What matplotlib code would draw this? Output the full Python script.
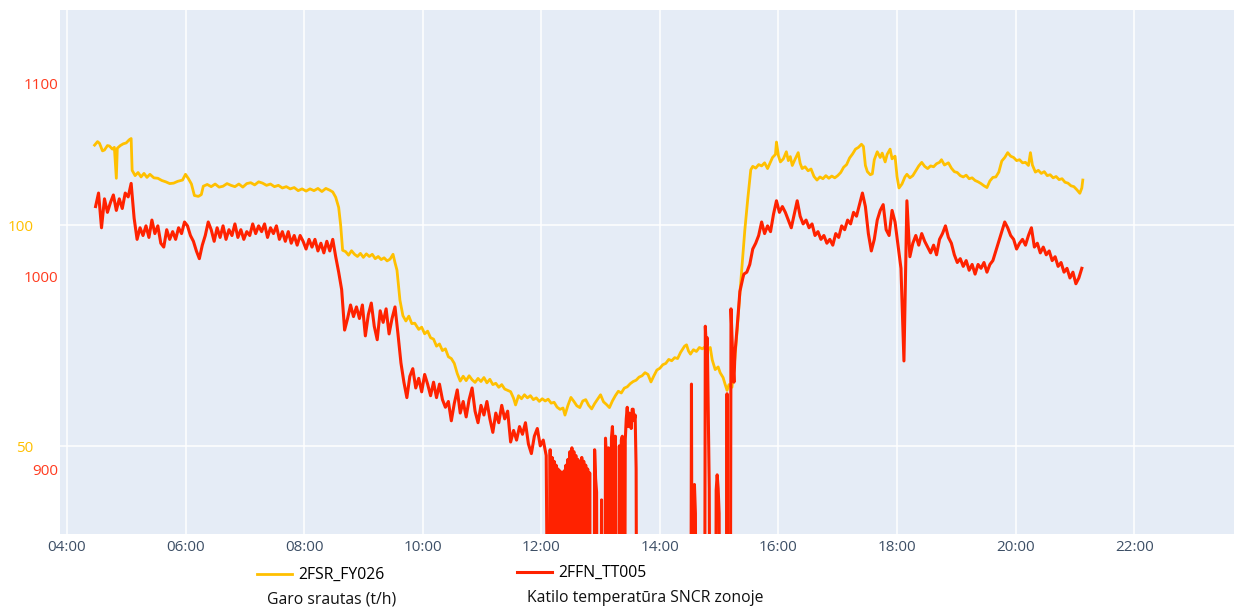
import pandas as pd
import matplotlib
matplotlib.use("Agg")
import matplotlib.pyplot as plt
import matplotlib.dates as mdates

# Garo srautas (t/h) - 2FSR_FY026
yellow_time = ["04:28", "04:31", "04:33", "04:36", "04:38", "04:41", "04:43", "04:46", "04:48", "04:50",
               "04:51", "04:54", "04:57", "05:00", "05:03", "05:05", "05:06", "05:09", "05:12", "05:15",
               "05:18", "05:21", "05:24", "05:28", "05:32", "05:36", "05:40", "05:44", "05:48", "05:52",
               "05:57", "06:00", "06:03", "06:06", "06:09", "06:13", "06:16", "06:18", "06:22", "06:26",
               "06:30", "06:34", "06:38", "06:42", "06:46", "06:50", "06:54", "06:58", "07:02", "07:06",
               "07:10", "07:14", "07:18", "07:22", "07:26", "07:30", "07:34", "07:38", "07:42", "07:46",
               "07:50", "07:54", "07:58", "08:02", "08:06", "08:10", "08:14", "08:18", "08:22", "08:26",
               "08:29", "08:32", "08:35", "08:37", "08:39", "08:42", "08:45", "08:48", "08:51", "08:54",
               "08:57", "09:00", "09:03", "09:06", "09:09", "09:12", "09:15", "09:18", "09:21", "09:24",
               "09:27", "09:30", "09:32", "09:34", "09:37", "09:40", "09:43", "09:46", "09:49", "09:52",
               "09:56", "09:59", "10:02", "10:05", "10:08", "10:11", "10:14", "10:17", "10:20", "10:23",
               "10:26", "10:29", "10:32", "10:35", "10:38", "10:41", "10:44", "10:47", "10:50", "10:53",
               "10:56", "10:59", "11:02", "11:05", "11:08", "11:11", "11:14", "11:17", "11:20", "11:23",
               "11:26", "11:29", "11:32", "11:34", "11:37", "11:40", "11:43", "11:46", "11:49", "11:52",
               "11:55", "11:58", "12:01", "12:04", "12:07", "12:10", "12:13", "12:16", "12:19", "12:22",
               "12:24", "12:27", "12:30", "12:33", "12:36", "12:39", "12:42", "12:45", "12:48", "12:51",
               "12:54", "12:57", "13:00", "13:03", "13:06", "13:09", "13:12", "13:15", "13:18", "13:21",
               "13:24", "13:27", "13:30", "13:33", "13:36", "13:39", "13:42", "13:45", "13:48", "13:51",
               "13:54", "13:57", "14:00", "14:03", "14:06", "14:09", "14:12", "14:15", "14:18", "14:21",
               "14:25", "14:27", "14:29", "14:31", "14:34", "14:37", "14:40", "14:43", "14:46", "14:49",
               "14:51", "14:53", "14:56", "14:59", "15:01", "15:04", "15:06", "15:08", "15:10", "15:13",
               "15:16", "15:19", "15:21", "15:24", "15:26", "15:29", "15:32", "15:34", "15:37", "15:40",
               "15:43", "15:46", "15:49", "15:52", "15:54", "15:57", "15:58", "16:00", "16:02", "16:05",
               "16:08", "16:10", "16:12", "16:14", "16:17", "16:20", "16:22", "16:24", "16:27", "16:30",
               "16:33", "16:36", "16:39", "16:42", "16:45", "16:48", "16:51", "16:54", "16:57", "17:00",
               "17:03", "17:06", "17:09", "17:12", "17:15", "17:18", "17:21", "17:24", "17:26", "17:28",
               "17:30", "17:33", "17:35", "17:37", "17:40", "17:43", "17:45", "17:48", "17:50", "17:53",
               "17:55", "17:58", "18:00", "18:02", "18:05", "18:08", "18:10", "18:13", "18:16", "18:19",
               "18:22", "18:25", "18:28", "18:31", "18:34", "18:37", "18:40", "18:43", "18:45", "18:48",
               "18:52", "18:55", "18:58", "19:01", "19:04", "19:07", "19:10", "19:13", "19:16", "19:19",
               "19:22", "19:25", "19:28", "19:31", "19:34", "19:37", "19:40", "19:43", "19:46", "19:49",
               "19:52", "19:55", "19:58", "20:01", "20:04", "20:07", "20:10", "20:13", "20:15", "20:17",
               "20:20", "20:23", "20:26", "20:29", "20:32", "20:35", "20:38", "20:41", "20:44", "20:47",
               "20:50", "20:53", "20:56", "20:59", "21:02", "21:05", "21:07", "21:08"]
yellow_val = [118.1, 118.9, 118.5, 116.8, 117.0, 118.0, 117.9, 117.2, 117.6, 110.6,
              117.4, 118.0, 118.4, 118.6, 119.3, 119.6, 112.4, 111.2, 111.9, 110.9,
              111.7, 110.8, 111.5, 110.7, 110.6, 110.1, 109.8, 109.4, 109.5, 109.9,
              110.2, 111.5, 110.5, 109.3, 106.7, 106.5, 106.9, 108.8, 109.2, 108.7,
              109.3, 108.6, 108.8, 109.4, 109.0, 108.7, 109.3, 108.6, 109.4, 109.6,
              109.1, 109.8, 109.5, 109.0, 109.3, 108.7, 109.0, 108.4, 108.7, 108.2,
              108.5, 107.8, 108.2, 107.7, 108.2, 107.8, 108.3, 107.6, 108.3, 107.9,
              107.5, 106.3, 104.0, 100.0, 94.3, 94.0, 93.2, 94.2, 93.4, 92.9,
              93.6, 92.7, 93.5, 92.9, 93.4, 92.4, 92.9, 92.2, 92.6, 91.9,
              92.3, 93.4, 91.5, 89.8, 83.0, 79.5, 78.3, 79.4, 77.7, 77.8,
              76.4, 76.9, 75.4, 76.0, 74.5, 74.2, 72.6, 73.1, 71.6, 72.0,
              70.2, 69.8, 68.7, 66.4, 64.7, 65.8, 64.8, 65.9, 65.0, 64.4,
              65.3, 64.6, 65.5, 64.3, 65.1, 63.9, 64.2, 63.3, 63.9, 62.9,
              62.6, 62.3, 60.8, 59.3, 61.4, 60.7, 61.6, 60.9, 61.4, 60.5,
              60.9, 60.1, 60.7, 60.2, 60.6, 59.7, 59.9, 58.8, 58.3, 58.6,
              57.0, 59.2, 61.0, 60.1, 59.1, 58.7, 60.2, 60.5, 59.2, 58.4,
              59.6, 60.6, 61.6, 60.0, 59.4, 58.7, 60.2, 61.4, 62.4, 62.0,
              63.1, 63.4, 64.1, 64.6, 64.9, 65.6, 65.9, 66.6, 66.2, 64.5,
              65.9, 67.2, 67.6, 68.4, 68.7, 69.6, 69.3, 70.0, 69.8, 71.2,
              72.6, 72.9, 71.5, 70.8, 71.8, 71.4, 72.3, 72.0, 72.5, 71.9,
              72.3, 69.5, 67.3, 67.9, 66.6, 65.5, 64.0, 62.6, 63.9, 63.3,
              70.0, 78.5, 84.6, 93.0, 98.9, 106.0, 112.5, 113.3, 112.9, 113.7,
              113.4, 114.1, 112.8, 114.3, 115.3, 116.0, 118.8, 115.7, 114.3, 115.0,
              116.6, 114.6, 115.5, 113.5, 115.0, 116.4, 114.0, 112.8, 113.2, 112.3,
              112.7, 111.0, 110.2, 110.9, 110.5, 111.2, 110.6, 111.1, 110.7, 111.2,
              111.9, 113.1, 113.7, 115.2, 116.1, 117.2, 117.6, 118.3, 117.8, 113.5,
              112.1, 111.4, 111.6, 114.8, 116.6, 115.3, 116.3, 114.3, 116.0, 117.2,
              115.0, 115.6, 111.0, 108.4, 109.3, 110.9, 111.5, 110.7, 111.2, 112.3,
              113.4, 114.2, 113.3, 112.8, 113.4, 113.2, 113.9, 114.2, 114.8, 113.6,
              114.1, 112.9, 112.1, 111.9, 111.2, 110.9, 111.3, 110.5, 110.7, 110.1,
              109.8, 109.4, 108.9, 108.5, 110.0, 110.8, 110.9, 112.0, 114.5, 115.3,
              116.4, 115.6, 115.3, 114.6, 114.8, 114.1, 114.2, 113.5, 116.4, 113.6,
              112.0, 112.4, 111.7, 112.1, 111.2, 111.4, 110.7, 111.0, 110.3, 110.5,
              109.7, 109.5, 108.9, 108.7, 108.0, 107.2, 108.4, 110.2]

# Katilo temperatura SNCR zonoje - 2FFN_TT005
# morning part, one reading every 3 minutes
red_morning_start = "04:29"
red_morning_val = [1036, 1043, 1025, 1040, 1033, 1038, 1042, 1034, 1040, 1035, 1043,
                   1041, 1048, 1030, 1019, 1025, 1021, 1026, 1020, 1029, 1022,
                   1026, 1017, 1015, 1024, 1019, 1023, 1019, 1025, 1022, 1028,
                   1026, 1021, 1018, 1013, 1009, 1016, 1021, 1028, 1024, 1018,
                   1025, 1020, 1026, 1019, 1024, 1021, 1027, 1020, 1024, 1019,
                   1023, 1021, 1027, 1022, 1026, 1023, 1027, 1020, 1025, 1022,
                   1026, 1019, 1023, 1018, 1023, 1017, 1021, 1016, 1021, 1018,
                   1014, 1019, 1015, 1019, 1013, 1017, 1012, 1018, 1013, 1019,
                   1010, 1002, 993, 972, 978, 985, 979, 984, 978, 985,
                   969, 980, 986, 974, 967, 982, 976, 983, 970, 978,
                   984, 970, 955, 945, 937, 948, 952, 942, 947, 940,
                   949, 944, 938, 945, 937, 944, 936, 932, 935, 925,
                   934, 941, 929, 935, 927, 936, 942, 930, 924, 933,
                   928, 935, 926, 919, 929, 924, 933, 926, 930, 914,
                   920, 915, 922, 918, 924, 913, 908, 917, 921, 912,
                   915, 907]

# midday part with sensor dropouts (values far below the axis)
red_mid_time = ["12:08", "12:09", "12:10", "12:11", "12:12", "12:13", "12:14", "12:15", "12:16", "12:17",
                "12:18", "12:19", "12:20", "12:21", "12:22", "12:23", "12:24", "12:25", "12:26", "12:27",
                "12:28", "12:29", "12:30", "12:31", "12:32", "12:33", "12:34", "12:35", "12:36", "12:37",
                "12:38", "12:39", "12:40", "12:41", "12:42", "12:43", "12:44", "12:45", "12:46", "12:47",
                "12:48", "12:49", "12:50", "12:53", "12:54", "12:55", "12:56", "12:57", "13:00", "13:01",
                "13:02", "13:04", "13:05", "13:06", "13:07", "13:08", "13:09", "13:10", "13:11", "13:12",
                "13:13", "13:14", "13:15", "13:16", "13:17", "13:18", "13:19", "13:20", "13:21", "13:22",
                "13:23", "13:24", "13:25", "13:26", "13:27", "13:28", "13:29", "13:30", "13:31", "13:32",
                "13:33", "13:34", "13:35", "13:36", "13:37",
                "14:31", "14:32", "14:33", "14:34", "14:35", "14:36", "14:37", "14:45", "14:46", "14:47",
                "14:48", "14:50", "14:51", "14:56", "14:57", "14:58", "14:59", "15:00", "15:01", "15:07",
                "15:08", "15:09", "15:11", "15:12", "15:14", "15:15", "15:16", "15:18", "15:21", "15:24"]
red_mid_val = [700, 910, 700, 906, 700, 904, 700, 902, 700, 900,
               700, 899, 700, 897, 700, 899, 700, 902, 700, 905,
               700, 909, 700, 911, 700, 909, 700, 907, 700, 905,
               700, 904, 700, 906, 700, 904, 700, 902, 700, 900,
               700, 898, 700, 700, 910, 895, 888, 700, 700, 884,
               700, 700, 916, 905, 700, 911, 905, 700, 916, 922,
               910, 700, 917, 700, 700, 700, 912, 700, 915, 917,
               700, 700, 915, 926, 932, 922, 929, 927, 921, 931,
               931, 925, 928, 900, 700,
               700, 944, 700, 700, 892, 877, 700, 700, 974, 963,
               968, 890, 700, 700, 889, 897, 890, 877, 700, 700,
               939, 700, 700, 983, 954, 945, 960, 972, 992, 999]

# afternoon part, one reading every 3 minutes
red_evening_start = "15:25"
red_evening_val = [1001, 1002, 1006, 1014, 1017, 1021, 1028, 1022, 1026, 1023, 1032, 1039, 1033,
                   1036, 1033, 1029, 1025, 1032, 1039, 1031, 1027, 1029, 1025,
                   1027, 1021, 1023, 1019, 1021, 1017, 1019, 1016, 1022, 1020,
                   1026, 1024, 1029, 1027, 1033, 1031, 1037, 1043, 1036, 1022,
                   1013, 1019, 1029, 1034, 1037, 1024, 1021, 1034, 1028, 1016,
                   1004, 956, 1039, 1010, 1017, 1021, 1016, 1022, 1018, 1015,
                   1012, 1016, 1011, 1019, 1022, 1026, 1020, 1017, 1011, 1007,
                   1009, 1005, 1008, 1003, 1006, 1001, 1006, 1004, 1007, 1002,
                   1006, 1008, 1013, 1018, 1023, 1028, 1025, 1021, 1019, 1014,
                   1017, 1019, 1016, 1021, 1025, 1015, 1017, 1012, 1015, 1011,
                   1013, 1008, 1010, 1005, 1007, 1002, 1004, 999, 1002, 996,
                   999, 1004]

YELLOW = "#FFC000"
RED = "#FF2200"
DAY = "2023-01-01 "

ty = pd.to_datetime([DAY + t for t in yellow_time])
t_morning = pd.date_range(DAY + red_morning_start, periods=len(red_morning_val), freq="3min")
t_mid = pd.to_datetime([DAY + t for t in red_mid_time])
t_evening = pd.date_range(DAY + red_evening_start, periods=len(red_evening_val), freq="3min")
tr = t_morning.append(t_mid).append(t_evening)
red_val = red_morning_val + red_mid_val + red_evening_val

fig = plt.figure(figsize=(12.41, 6.10), dpi=100)
ax = fig.add_axes([60 / 1241, 1 - 533.5 / 610, 1174 / 1241, 524 / 610])
ax.set_facecolor("#E5ECF6")
ax2 = ax.twinx()

l1, = ax.plot(ty, yellow_val, color=YELLOW, lw=2.0, label="2FSR_FY026")
l2, = ax2.plot(tr, red_val, color=RED, lw=2.2, label="2FFN_TT005")

ax.set_xlim(pd.Timestamp(DAY + "03:53"), pd.Timestamp(DAY + "23:41"))
ax.xaxis.set_major_locator(mdates.HourLocator(byhour=range(0, 24, 2)))
ax.xaxis.set_major_formatter(mdates.DateFormatter("%H:%M"))

ax.set_ylim(30.2, 148.8)
ax.set_yticks([50, 100])
ax2.set_ylim(866.6, 1138.1)
ax2.set_yticks([900, 1000, 1100])

ax.grid(color="white", lw=1.1)
ax2.grid(False)
for a in (ax, ax2):
    for s in a.spines.values():
        s.set_visible(False)

ax2.yaxis.tick_left()
ax.tick_params(axis="y", length=0, pad=19, labelcolor=YELLOW, labelsize=11)
ax2.tick_params(axis="y", length=0, pad=1.5, labelcolor="#FF3B1F", labelsize=11)
ax.tick_params(axis="x", length=0, pad=5, labelcolor="#3d4f66", labelsize=11)
for lab in ax.get_xticklabels() + ax.get_yticklabels() + ax2.get_yticklabels():
    lab.set_fontfamily("Open Sans")

# legend entries under the chart, each with its description
fig.legend(handles=[l1], loc="center left", bbox_to_anchor=(257 / 1241, 1 - 575 / 610),
           frameon=False, borderpad=0, borderaxespad=0, handlelength=2.2, handletextpad=0.4,
           prop={"family": "Open Sans", "size": 11.3})
fig.legend(handles=[l2], loc="center left", bbox_to_anchor=(517 / 1241, 1 - 573 / 610),
           frameon=False, borderpad=0, borderaxespad=0, handlelength=2.2, handletextpad=0.4,
           prop={"family": "Open Sans", "size": 11.3})
fig.text(267 / 1241, 1 - 600 / 610, "Garo srautas (t/h)", family="Open Sans", size=11.3,
         va="center", ha="left", color="#111111")
fig.text(527 / 1241, 1 - 598 / 610, "Katilo temperatūra SNCR zonoje", family="Open Sans", size=11.3,
         va="center", ha="left", color="#111111")

fig.savefig("out.png", dpi=100)
